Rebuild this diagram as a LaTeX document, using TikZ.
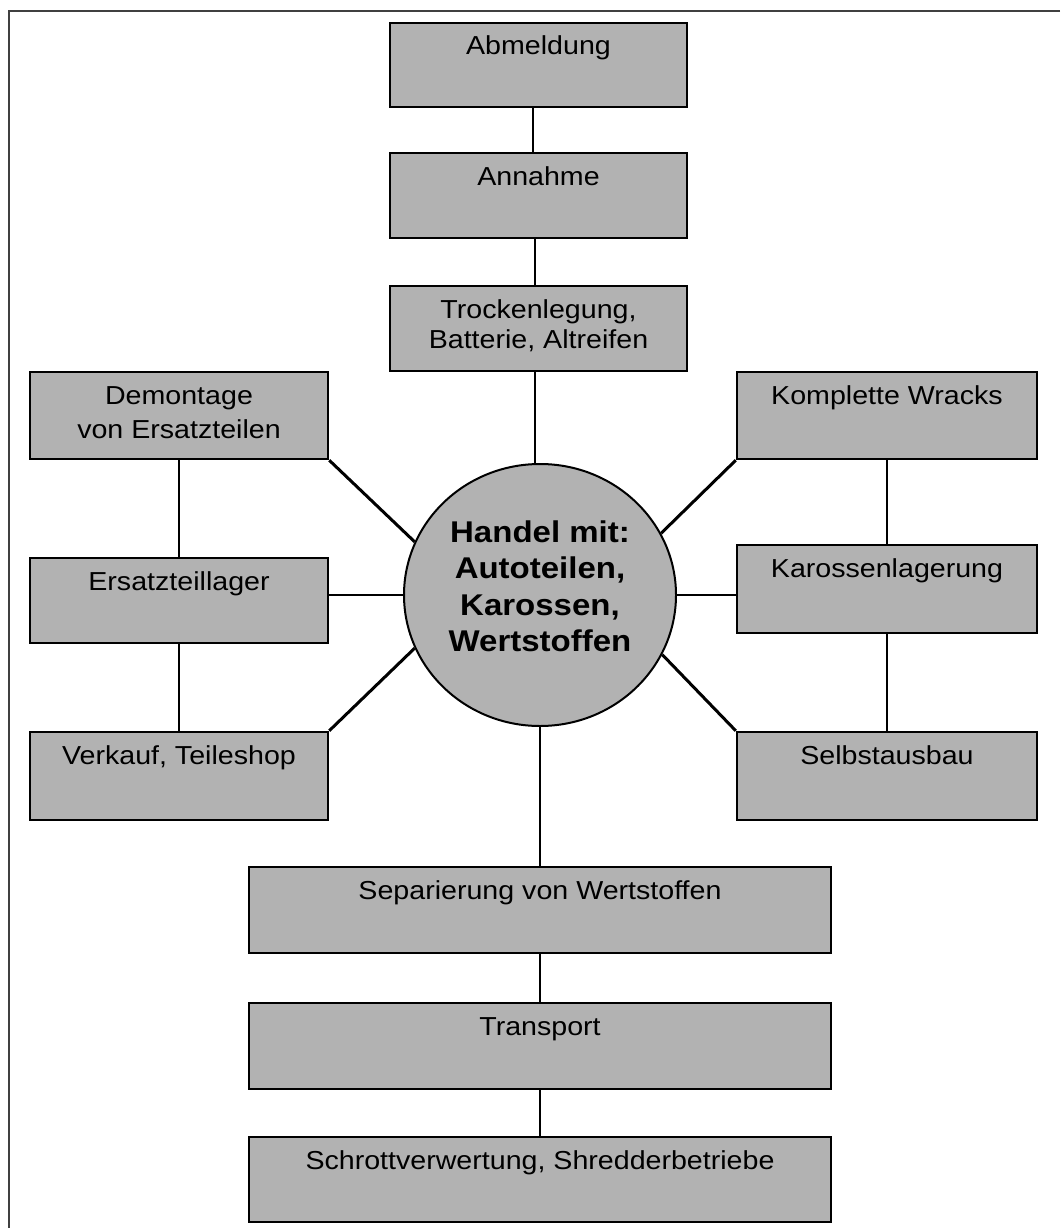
\documentclass[tikz,border=0pt]{standalone}
\usepackage{fontspec}
\setmainfont{Liberation Sans}[FakeStretch=1.1]
\usetikzlibrary{shapes.geometric}
\definecolor{boxgray}{RGB}{178,178,178}
\newcommand\bxt[3]{\parbox[c][#2pt][t]{#1pt}{\centering\rule{0pt}{32pt}#3\par}}
\tikzset{
  box/.style={draw=black, line width=2.5pt, fill=boxgray, inner sep=0pt,
    font=\fontsize{26}{30}\selectfont},
  conn/.style={line width=2pt},
  diag/.style={line width=3pt},
  frameline/.style={line width=1.5pt, draw=black!75},
  hub/.style={ellipse, draw=black, line width=2pt, fill=boxgray, inner sep=0pt,
    minimum width=272pt, minimum height=262pt, align=center,
    font=\fontsize{30}{36.5}\selectfont\bfseries}
}
\begin{document}
\begin{tikzpicture}[x=1pt,y=-1pt]
\useasboundingbox (0,0) rectangle (1060,1228);
\draw[frameline] (1060,11) -- (9,11) -- (9,1228);

% top column
\node[box] (abm) at (538.5,65)   {\bxt{297}{84}{Abmeldung}};
\node[box] (ann) at (538.5,195.5){\bxt{297}{85}{Annahme}};
\node[box] (trk) at (538.5,328.5){\bxt{297}{85}{Trockenlegung,\\Batterie, Altreifen}};

% hub
\node[hub] (hc) at (540,595) {Handel mit:\\Autoteilen,\\Karossen,\\Wertstoffen\rule[-18pt]{0pt}{0pt}};

% left column
\node[box] (dem) at (179,415.5) {\bxt{298}{87}{Demontage\\[4pt]von Ersatzteilen}};
\node[box] (ers) at (179,600.5) {\bxt{298}{85}{Ersatzteillager}};
\node[box] (ver) at (179,776)   {\bxt{298}{88}{Verkauf, Teileshop}};

% right column
\node[box] (kom) at (887,415.5) {\bxt{300}{87}{Komplette Wracks}};
\node[box] (kar) at (887,589)   {\bxt{300}{88}{Karossenlagerung}};
\node[box] (sel) at (887,776)   {\bxt{300}{88}{Selbstausbau}};

% bottom column
\node[box] (sep) at (540,910)    {\bxt{582}{86}{Separierung von Wertstoffen}};
\node[box] (tra) at (540,1046)   {\bxt{582}{86}{Transport}};
\node[box] (sch) at (540,1179.5) {\bxt{582}{85}{Schrottverwertung, Shredderbetriebe}};

% connectors
\draw[conn] ([xshift=-6pt]abm.south) -- ([xshift=-6pt]ann.north);
\draw[conn] ([xshift=-4pt]ann.south) -- ([xshift=-4pt]trk.north);
\draw[conn] ([xshift=-4pt]trk.south) -- ([xshift=-4pt]trk.south |- hc.north);
\draw[conn] (hc.south) -- (sep.north);
\draw[conn] (sep.south) -- (tra.north);
\draw[conn] (tra.south) -- (sch.north);

\draw[conn] (dem.south) -- (ers.north);
\draw[conn] (ers.south) -- (ver.north);
\draw[conn] (kom.south) -- (kar.north);
\draw[conn] (kar.south) -- (sel.north);

\draw[conn] (hc.west) -- (hc.west -| ers.east);
\draw[conn] (hc.east) -- (hc.east -| kar.west);

\draw[diag] (dem.south east) -- (hc.157);
\draw[diag] (ver.north east) -- (hc.203);
\draw[diag] (kom.south west) -- (hc.27);
\draw[diag] (sel.north west) -- (hc.334);
\end{tikzpicture}
\end{document}
